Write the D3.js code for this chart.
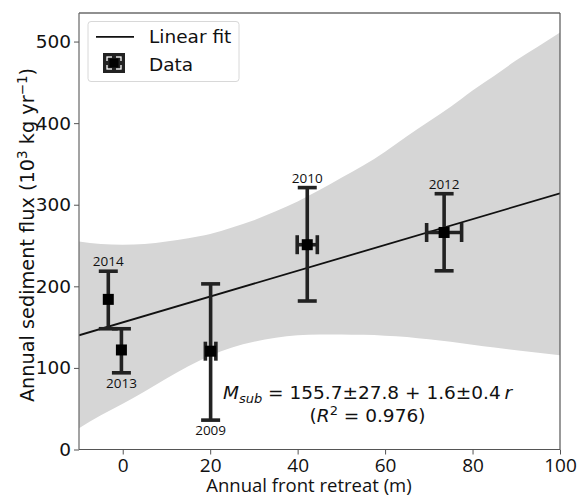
<!DOCTYPE html>
<html><head><meta charset="utf-8">
<script src="https://cdn.jsdelivr.net/npm/d3@7"></script>
<style>
body{margin:0;background:#fff;}
svg{display:block;}
</style></head>
<body><svg id="c" width="581" height="497"></svg>
<script>
// ---- data ----
const years   = ["2014","2013","2009","2010","2012"];
const retreat = [-3.3, -0.3, 20.1, 42.2, 73.5];
const flux    = [184, 122, 120.5, 251, 266];
const fluxLo  = [148, 94, 36, 182, 219];
const fluxHi  = [218.5, 148, 203, 321, 313.5];
const retreatErr = [0, 0, 1.2, 2.3, 4.0];
const labelPos = ["above","below","below","above","above"];

const fitX = [-10, 100];
const fitY = [140, 314];

const bandX  = [-10,-5,0,5,10,15,20,25,30,35,40,45,50,55,60,65,70,75,80,85,90,95,100];
const bandHi = [255,252,251,252,255,259,264,272,281,292,304,318,333,348,365,384,402,420,440,458,477,494,511];
const bandLo = [26,42,56,71,87,102,115,125,132,137,140,141,141,140.5,139.5,138,135,132,128.5,125,121.5,118.5,115.5];

const xTicks = [0,20,40,60,80,100];
const yTicks = [0,100,200,300,400,500];

// ---- layout ----
const L=79, R=560, T=13, B=449.5;
const x = d3.scaleLinear().domain([-10,100]).range([L,R]);
const y = d3.scaleLinear().domain([0,535]).range([B,T]);
const svg = d3.select("#c");
const dark = "#222";

svg.append("defs").append("clipPath").attr("id","clip")
  .append("rect").attr("x",L).attr("y",T).attr("width",R-L).attr("height",B-T);

const g = svg.append("g").attr("clip-path","url(#clip)");

// confidence band
const band = bandX.map((v,i)=>({x:v,hi:bandHi[i],lo:bandLo[i]}));
g.append("path").datum(band)
  .attr("d", d3.area().curve(d3.curveMonotoneX)
    .x(d=>x(d.x)).y0(d=>y(d.lo)).y1(d=>y(d.hi)))
  .attr("fill","#d6d6d6");

// fit line
g.append("path").datum(fitX.map((v,i)=>[v,fitY[i]]))
  .attr("d", d3.line().x(d=>x(d[0])).y(d=>y(d[1])))
  .attr("stroke","#111").attr("stroke-width",1.8).attr("fill","none");

// error bars
const pts = years.map((yr,i)=>({yr, x:retreat[i], y:flux[i], lo:fluxLo[i], hi:fluxHi[i], xe:retreatErr[i], pos:labelPos[i]}));
const cap = 9.5, ew = 3.6;
const eb = svg.append("g").attr("stroke",dark).attr("stroke-width",ew);
pts.forEach(p=>{
  eb.append("line").attr("x1",x(p.x)).attr("x2",x(p.x)).attr("y1",y(p.lo)).attr("y2",y(p.hi));
  eb.append("line").attr("x1",x(p.x)-cap).attr("x2",x(p.x)+cap).attr("y1",y(p.lo)).attr("y2",y(p.lo));
  eb.append("line").attr("x1",x(p.x)-cap).attr("x2",x(p.x)+cap).attr("y1",y(p.hi)).attr("y2",y(p.hi));
  if(p.xe>0){
    const x0=x(p.x-p.xe), x1=x(p.x+p.xe);
    eb.append("line").attr("x1",x0).attr("x2",x1).attr("y1",y(p.y)).attr("y2",y(p.y));
    eb.append("line").attr("x1",x0).attr("x2",x0).attr("y1",y(p.y)-cap).attr("y2",y(p.y)+cap);
    eb.append("line").attr("x1",x1).attr("x2",x1).attr("y1",y(p.y)-cap).attr("y2",y(p.y)+cap);
  }
});
// markers
svg.append("g").selectAll("rect").data(pts).join("rect")
  .attr("x",d=>x(d.x)-5.5).attr("y",d=>y(d.y)-5.5).attr("width",11).attr("height",11)
  .attr("fill","#000");
// year labels
svg.append("g").selectAll("text").data(pts).join("text")
  .attr("x",d=>x(d.x))
  .attr("y",d=>d.pos==="above"? y(d.hi)-5 : y(d.lo)+15)
  .attr("text-anchor","middle")
  .attr("font-family","Open Sans, sans-serif").attr("font-size",13.5)
  .attr("fill","#111")
  .text(d=>d.yr);

// spines
svg.append("line").attr("x1",L).attr("x2",R).attr("y1",T).attr("y2",T).attr("stroke","#222").attr("stroke-width",1.2);
svg.append("line").attr("x1",R).attr("x2",R).attr("y1",T).attr("y2",B).attr("stroke","#555").attr("stroke-width",1.2);
svg.append("line").attr("x1",L).attr("x2",L).attr("y1",T).attr("y2",B).attr("stroke","#666").attr("stroke-width",1.2);
svg.append("line").attr("x1",L).attr("x2",R).attr("y1",B).attr("y2",B).attr("stroke","#555").attr("stroke-width",1.2);

// axes
const xAxis = svg.append("g").attr("transform",`translate(0,${B})`)
  .call(d3.axisBottom(x).tickValues(xTicks).tickSize(5).tickPadding(4.5).tickFormat(d3.format("d")));
xAxis.select(".domain").remove();
xAxis.selectAll("line").attr("stroke","#555");
xAxis.selectAll("text").attr("font-family","Open Sans, sans-serif").attr("font-size",19).attr("fill","#111");

const yAxis = svg.append("g").attr("transform",`translate(${L},0)`)
  .call(d3.axisLeft(y).tickValues(yTicks).tickSize(5).tickPadding(3).tickFormat(d3.format("d")));
yAxis.select(".domain").remove();
yAxis.selectAll("line").attr("stroke","#555");
yAxis.selectAll("text").attr("font-family","DejaVu Sans, sans-serif").attr("font-size",18.5).attr("fill","#111");

// axis labels
svg.append("text").attr("x",309).attr("y",492).attr("text-anchor","middle")
  .attr("font-family","Open Sans, sans-serif").attr("font-size",18.5).attr("fill","#111")
  .text("Annual front retreat (m)");

const yl = svg.append("text").attr("transform","translate(34,235) rotate(-90)")
  .attr("text-anchor","middle").attr("font-family","DejaVu Sans, sans-serif")
  .attr("font-size",19.3).attr("fill","#111");
yl.append("tspan").text("Annual sediment flux (10");
yl.append("tspan").attr("font-size",13.5).attr("dy",-7).text("3");
yl.append("tspan").attr("dy",7).text(" kg yr");
yl.append("tspan").attr("font-size",13.5).attr("dy",-7).text("\u22121");
yl.append("tspan").attr("dy",7).text(")");

// equation
const eq = svg.append("text").attr("x",367.5).attr("y",399).attr("text-anchor","middle")
  .attr("font-family","DejaVu Sans, sans-serif").attr("font-size",18.5).attr("fill","#111");
eq.append("tspan").attr("font-style","italic").text("M");
eq.append("tspan").attr("font-style","italic").attr("font-size",13).attr("dy",4).text("sub");
eq.append("tspan").attr("dy",-4).text(" = 155.7\u00b127.8 + 1.6\u00b10.4\u2009");
eq.append("tspan").attr("font-style","italic").text("r");

const eq2 = svg.append("text").attr("x",367.5).attr("y",421.5).attr("text-anchor","middle")
  .attr("font-family","DejaVu Sans, sans-serif").attr("font-size",18.5).attr("fill","#111");
eq2.append("tspan").text("(");
eq2.append("tspan").attr("font-style","italic").text("R");
eq2.append("tspan").attr("font-size",13).attr("dy",-7).text("2");
eq2.append("tspan").attr("dy",7).text(" = 0.976)");

// legend
const lg = svg.append("g");
lg.append("rect").attr("x",88).attr("y",21.5).attr("width",151).attr("height",60).attr("rx",3)
  .attr("fill","#fff").attr("fill-opacity",0.85).attr("stroke","#d8d8d8").attr("stroke-width",1);
lg.append("line").attr("x1",96).attr("x2",134).attr("y1",36.8).attr("y2",36.8)
  .attr("stroke","#111").attr("stroke-width",1.8);
lg.append("rect").attr("x",103).attr("y",53).attr("width",22).attr("height",20).attr("fill",dark);
lg.append("rect").attr("x",107).attr("y",57).attr("width",14).attr("height",12)
  .attr("fill","none").attr("stroke","#fff").attr("stroke-width",1.3);
lg.append("rect").attr("x",112).attr("y",55).attr("width",4).attr("height",16).attr("fill",dark);
lg.append("rect").attr("x",105).attr("y",61).attr("width",18).attr("height",4).attr("fill",dark);
lg.append("rect").attr("x",109.5).attr("y",58.5).attr("width",9).attr("height",9).attr("fill","#000");
lg.append("text").attr("x",149).attr("y",43.3).attr("font-family","DejaVu Sans, sans-serif")
  .attr("font-size",18.5).attr("fill","#111").text("Linear fit");
lg.append("text").attr("x",149).attr("y",71).attr("font-family","DejaVu Sans, sans-serif")
  .attr("font-size",18.5).attr("fill","#111").text("Data");
</script>
</body></html>
